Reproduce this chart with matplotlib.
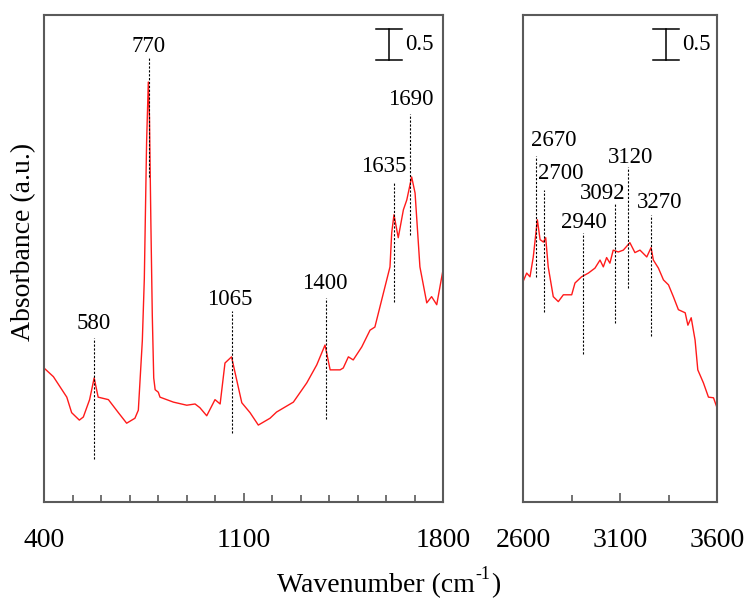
import matplotlib
matplotlib.use('Agg')
import matplotlib.pyplot as plt
import numpy as np

plt.rcParams['font.family'] = ['Liberation Serif', 'DejaVu Serif']

# fingerprint region (400-1800 cm-1)
wn_low = [400, 433, 480, 497, 524, 538, 560, 576, 590, 626, 661, 690, 719, 731, 745, 752,
          760, 766, 770, 775, 780, 785, 790, 801, 807, 854, 901, 930, 947, 971, 1000, 1018,
          1035, 1058, 1076, 1094, 1123, 1152, 1193, 1216, 1275, 1322, 1357, 1386, 1404,
          1439, 1450, 1468, 1485, 1515, 1544, 1561, 1591, 1614, 1620, 1628, 1643, 1661,
          1673, 1690, 1702, 1719, 1743, 1760, 1778, 1800]
abs_low = [2.16, 2.02, 1.69, 1.44, 1.32, 1.37, 1.65, 2.00, 1.69, 1.65, 1.44, 1.27, 1.35, 1.48,
           2.60, 3.60, 5.80, 6.77, 6.20, 4.50, 3.00, 2.00, 1.81, 1.77, 1.69, 1.61, 1.56, 1.58,
           1.52, 1.39, 1.65, 1.58, 2.24, 2.34, 1.97, 1.60, 1.44, 1.24, 1.35, 1.45, 1.61, 1.92,
           2.21, 2.53, 2.13, 2.13, 2.16, 2.34, 2.29, 2.50, 2.77, 2.82, 3.37, 3.79, 4.34, 4.63,
           4.26, 4.71, 4.87, 5.24, 4.98, 3.79, 3.21, 3.31, 3.18, 3.74]

# high wavenumber region (2600-3600 cm-1)
wn_high = [2600, 2619, 2636, 2653, 2674, 2688, 2705, 2717, 2730, 2756, 2782, 2808, 2851,
           2868, 2902, 2937, 2971, 2997, 3014, 3031, 3048, 3065, 3091, 3117, 3151, 3177,
           3203, 3238, 3260, 3272, 3298, 3324, 3350, 3375, 3401, 3436, 3450, 3467, 3487,
           3501, 3530, 3556, 3582, 3600]
abs_high = [3.55, 3.69, 3.63, 3.95, 4.55, 4.23, 4.19, 4.26, 3.79, 3.31, 3.23, 3.34, 3.34,
            3.53, 3.63, 3.69, 3.77, 3.90, 3.79, 3.94, 3.85, 4.06, 4.03, 4.06, 4.18, 4.02,
            4.06, 3.95, 4.10, 3.90, 3.77, 3.58, 3.50, 3.31, 3.10, 3.05, 2.85, 2.97, 2.61,
            2.13, 1.92, 1.69, 1.68, 1.52]

# peak markers: line position, line top/bottom, label text, label position
peaks_low = [(576, 2.65, 0.69, '580', 576, 2.87),
             (767, 7.18, 5.24, '770', 767, 7.34),
             (1058, 3.08, 1.11, '1065', 1052, 3.27),
             (1388, 3.29, 1.34, '1400', 1385, 3.53),
             (1628, 5.16, 3.23, '1635', 1593, 5.40),
             (1685, 6.26, 4.31, '1690', 1686, 6.48)]
peaks_high = [(2667, 5.58, 3.63, '2670', 2760, 5.82),
              (2708, 5.03, 3.06, '2700', 2796, 5.29),
              (2909, 4.34, 2.39, '2940', 2912, 4.50),
              (3074, 4.82, 2.89, '3092', 3010, 4.98),
              (3141, 5.40, 3.45, '3120', 3152, 5.55),
              (3260, 4.63, 2.68, '3270', 3306, 4.82)]

W, H = 751, 601
fig = plt.figure(figsize=(W / 100, H / 100), dpi=100)
ax1 = fig.add_axes([44 / W, 1 - 502 / H, 399 / W, 487 / H])
ax2 = fig.add_axes([523 / W, 1 - 502 / H, 194 / W, 487 / H])

spine_col = '#5a5a5a'


def style(ax, xlim, major, minor, bar_x, bar_w):
    ax.set_xlim(*xlim)
    ax.set_ylim(0, 7.85)
    ax.set_xticks(major)
    ax.set_xticks(minor, minor=True)
    ax.set_yticks([])
    ax.tick_params(axis='x', which='both', direction='in', colors=spine_col,
                   labelcolor='black', labelsize=20, pad=19, width=1.2)
    ax.tick_params(axis='x', which='major', length=6.5)
    ax.tick_params(axis='x', which='minor', length=5)
    for sp in ax.spines.values():
        sp.set_color(spine_col)
        sp.set_linewidth(1.5)
    # 0.5 absorbance scale bar
    y0, y1 = 7.13, 7.63
    ax.plot([bar_x, bar_x], [y0, y1], color='black', lw=1.1)
    ax.plot([bar_x - bar_w, bar_x + bar_w], [y0, y0], color='black', lw=1.1)
    ax.plot([bar_x - bar_w, bar_x + bar_w], [y1, y1], color='black', lw=1.1)
    ax.text(bar_x + bar_w * 1.25, (y0 + y1) / 2, '0.5', fontsize=16.5, va='center', ha='left')


def mark(ax, peaks):
    for x, top, bot, lab, lx, ly in peaks:
        ax.plot([x, x], [bot, top], color='black', lw=0.8, ls=(0, (2, 1.5)))
        ax.text(lx, ly, lab, fontsize=16.5, ha='center', va='center')


ax1.plot(wn_low, abs_low, color='#ff1a1a', lw=1.0)
ax2.plot(wn_high, abs_high, color='#ff1a1a', lw=1.0)

style(ax1, (400, 1800), [400, 1100, 1800], np.arange(500, 1800, 100), 1611, 46)
style(ax2, (2600, 3600), [2600, 3100, 3600], [2850, 3350], 3336, 67)
mark(ax1, peaks_low)
mark(ax2, peaks_high)

# x label with a plain hyphen in the superscript
t1 = fig.text(277 / W, 1 - 592 / H, 'Wavenumber (cm', fontsize=20, ha='left', va='baseline')
t2 = ax1.annotate('-1', xy=(1, 0), xycoords=t1, xytext=(0.5, 11), textcoords='offset points',
                  fontsize=13, ha='left', va='bottom', annotation_clip=False)
ax1.annotate(')', xy=(1, 0), xycoords=t2, xytext=(0.5, -11), textcoords='offset points',
             fontsize=20, ha='left', va='bottom', annotation_clip=False)

fig.text(24 / W, 1 - 242 / H, 'Absorbance (a.u.)', fontsize=20, rotation=90,
         ha='center', va='center')

fig.savefig('out.png', dpi=100)
